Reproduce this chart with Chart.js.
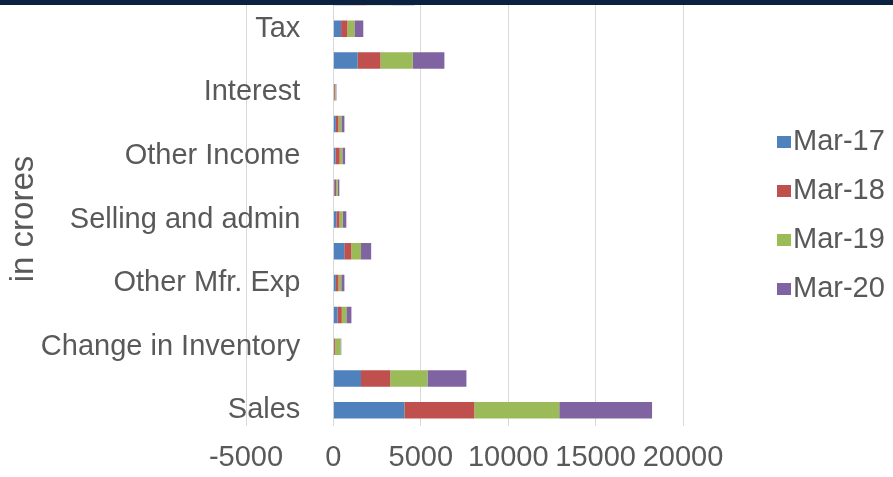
<!DOCTYPE html>
<html>
<head>
<meta charset="utf-8">
<script src="https://cdn.jsdelivr.net/npm/chart.js@4.4.1/dist/chart.umd.min.js"></script>
<style>
  html, body { margin: 0; padding: 0; background: #fff; overflow: hidden; }
  #wrap { position: relative; width: 893px; height: 477px; overflow: hidden; background: #fff; }
  #chart-box { position: absolute; left: 0; top: -40px; width: 893px; height: 531px; }
  #band { position: absolute; left: 0; top: 0; width: 893px; height: 5px; background: #0b2142; }
</style>
</head>
<body>
<div id="wrap">
  <div id="chart-box"><canvas id="plChart"></canvas></div>
  <div id="band"></div>
</div>
<script>
// P&L rows, bottom to top (only every other one gets a label, like the original)
const categories = [
  "Sales", "Raw Material Cost", "Change in Inventory", "Power and Fuel",
  "Other Mfr. Exp", "Employee Cost", "Selling and admin", "Other Expenses",
  "Other Income", "Depreciation", "Interest", "Profit before tax", "Tax", "Net profit"
];
const seriesNames = ["Mar-17", "Mar-18", "Mar-19", "Mar-20"];

const mar17 = [4060, 1580, 40, 230, 140, 620, 170, 80, 120, 140, 40, 1390, 440, 950];
const mar18 = [4000, 1670, 60, 250, 150, 400, 180, 80, 240, 150, 45, 1300, 360, 940];
const mar19 = [4860, 2130, 310, 260, 160, 560, 190, 85, 150, 165, 40, 1850, 400, 1450];
const mar20 = [5310, 2230, 40, 290, 180, 580, 200, 95, 160, 175, 45, 1810, 510, 1300];

const xTicks = [-5000, 0, 5000, 10000, 15000, 20000];

const colors = ["#4F81BD", "#C0504D", "#9BBB59", "#8064A2"];
const gridColor = "#d9d9d9";
const textColor = "#595959";
const fontFamily = "'Liberation Sans', Arial, sans-serif";

// legend on the right + rotated axis title, placed like the Excel original
const sideLegend = {
  id: "sideLegend",
  afterDraw(chart) {
    const ctx = chart.ctx;
    ctx.save();
    ctx.font = `29px ${fontFamily}`;
    ctx.textBaseline = "middle";
    chart.data.datasets.forEach((ds, i) => {
      const y = 182 + i * 49;
      ctx.fillStyle = ds.backgroundColor;
      ctx.fillRect(777, y - 6, 14, 12);
      ctx.fillStyle = textColor;
      ctx.fillText(ds.label, 793, y);
    });

    ctx.font = `33px ${fontFamily}`;
    ctx.translate(24, 259);
    ctx.rotate(-Math.PI / 2);
    ctx.textAlign = "center";
    ctx.fillText("in crores", 0, 0);
    ctx.restore();
  },
};

document.addEventListener("DOMContentLoaded", () => {
  const ctx = document.getElementById("plChart").getContext("2d");
  const values = [mar17, mar18, mar19, mar20];

  new Chart(ctx, {
    type: "bar",
    data: {
      labels: categories,
      datasets: seriesNames.map((name, i) => ({
        label: name,
        data: values[i],
        backgroundColor: colors[i],
        borderWidth: 0,
        barPercentage: 0.52,
        categoryPercentage: 1,
      })),
    },
    options: {
      indexAxis: "y",
      responsive: true,
      maintainAspectRatio: false,
      animation: false,
      layout: {
        padding: { left: 246, right: 210, top: 21, bottom: 2 },
      },
      plugins: {
        legend: { display: false },
        tooltip: { enabled: false },
      },
      scales: {
        x: {
          type: "linear",
          stacked: true,
          min: xTicks[0],
          max: xTicks[xTicks.length - 1],
          border: { display: false },
          grid: { color: gridColor, drawTicks: false },
          ticks: {
            stepSize: 5000,
            autoSkip: false,
            maxRotation: 0,
            padding: 14,
            color: textColor,
            font: { family: fontFamily, size: 29 },
            callback: (value) => String(value),
          },
        },
        y: {
          type: "category",
          stacked: true,
          reverse: true,
          // labels sit a bit left of the zero line, inside the plot
          position: { x: -1890 },
          border: { display: false },
          grid: { display: false, drawTicks: false },
          ticks: {
            autoSkip: false,
            padding: 0,
            color: textColor,
            font: { family: fontFamily, size: 29 },
            callback: (value, index) => (index % 2 === 0 ? categories[index] : ""),
          },
          afterFit: (scale) => {
            scale.paddingTop = 0;
            scale.paddingBottom = 0;
          },
        },
      },
    },
    plugins: [sideLegend],
  });
});
</script>
</body>
</html>
